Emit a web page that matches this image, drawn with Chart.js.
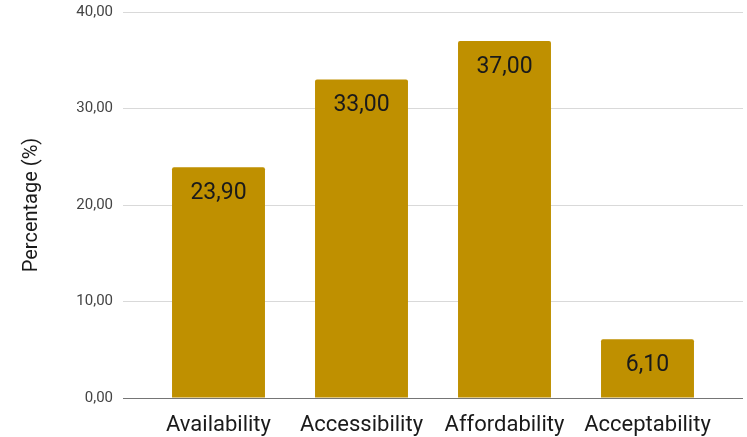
<!DOCTYPE html>
<html lang="en">
<head>
    <meta charset="UTF-8">
    <title>Percentage (%)</title>
    <script src="https://cdn.jsdelivr.net/npm/chart.js"></script>
    <style>
        html, body { margin: 0; padding: 0; background: #fff; }
        #wrap { width: 747px; height: 437px; }
    </style>
</head>
<body>
<div id="wrap"><canvas id="chart"></canvas></div>
<script>
    const categories = ["Availability", "Accessibility", "Affordability", "Acceptability"];
    const percentages = [23.9, 33.0, 37.0, 6.1];
    const yTicks = [0, 10, 20, 30, 40];

    const barColor = "#bf9000";
    const gridColor = "#d9d9d9";
    const zeroColor = "#757575";

    function comma(v) {
        return v.toFixed(2).replace(".", ",");
    }

    function lineColor(ctx) {
        return ctx.tick && ctx.tick.value === 0 ? zeroColor : gridColor;
    }

    // value written near the top, inside each bar
    const barValues = {
        id: "barValues",
        afterDatasetsDraw(chart) {
            const c = chart.ctx;
            const meta = chart.getDatasetMeta(0);
            c.save();
            c.font = "23px Roboto";
            c.fillStyle = "#1a1a1a";
            c.textAlign = "center";
            c.textBaseline = "middle";
            meta.data.forEach((bar, i) => {
                c.fillText(comma(percentages[i]), bar.x, bar.y + 26);
            });
            c.restore();
        }
    };

    // vertical axes: fixed width, no extra room above the top tick
    function fitY(width) {
        return s => {
            s.width = width;
            s.paddingTop = 0;
            s.paddingBottom = 0;
        };
    }

    new Chart(document.getElementById("chart"), {
        type: "bar",
        data: {
            labels: categories,
            datasets: [{
                data: percentages,
                backgroundColor: barColor,
                borderRadius: { topLeft: 2, topRight: 2 },
                borderSkipped: "bottom",
                categoryPercentage: 1,
                barPercentage: 0.65
            }]
        },
        options: {
            responsive: true,
            maintainAspectRatio: false,
            animation: false,
            layout: { padding: { left: 0, right: 4, top: 12, bottom: 0 } },
            plugins: { legend: { display: false }, tooltip: { enabled: false } },
            scales: {
                x: {
                    grid: { display: false },
                    border: { display: false },
                    ticks: { color: "#1a1a1a", font: { family: "Roboto", size: 22 }, padding: 6 },
                    afterFit(s) { s.height = 39; }
                },
                y: {
                    min: 0,
                    max: 40,
                    afterBuildTicks(s) { s.ticks = yTicks.map(v => ({ value: v })); },
                    grid: { color: lineColor, tickColor: lineColor, tickLength: 24, lineWidth: 1 },
                    border: { display: false },
                    ticks: { color: "#444", font: { family: "Roboto", size: 15 }, padding: 10, callback: v => comma(v) },
                    title: { display: true, text: "Percentage (%)", color: "#1a1a1a", font: { family: "Roboto", size: 20 }, padding: { top: 20, bottom: 0 } },
                    afterFit: fitY(147)
                },
                yRight: {
                    position: "right",
                    min: 0,
                    max: 40,
                    afterBuildTicks(s) { s.ticks = yTicks.map(v => ({ value: v })); },
                    grid: { drawOnChartArea: false, tickColor: lineColor, tickLength: 24 },
                    border: { display: false },
                    ticks: { display: false },
                    afterFit: fitY(24)
                }
            }
        },
        plugins: [barValues]
    });
</script>
</body>
</html>
